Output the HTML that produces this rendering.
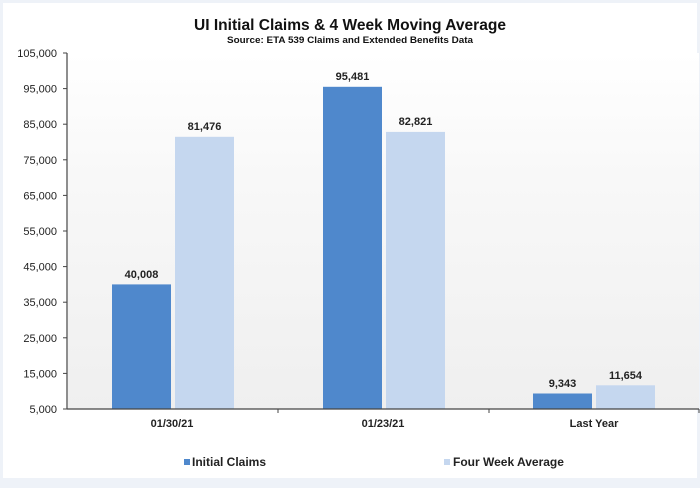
<!DOCTYPE html>
<html><head><meta charset="utf-8"><style>
html,body{margin:0;padding:0;background:#eef2f8;}
svg{display:block;font-family:"Liberation Sans",Arial,sans-serif;}
</style></head><body>
<svg width="700" height="488" viewBox="0 0 700 488">
<defs><linearGradient id="g" x1="0" y1="0" x2="0" y2="1"><stop offset="0" stop-color="#ffffff"/><stop offset="0.35" stop-color="#f8f8f8"/><stop offset="1" stop-color="#efefef"/></linearGradient></defs>
<rect x="0" y="0" width="700" height="488" fill="#eef2f8"/>
<rect x="3" y="3" width="694" height="475" fill="#ffffff"/>
<rect x="68" y="53" width="631" height="356" fill="url(#g)"/>
<text x="350" y="30" text-anchor="middle" font-size="16" font-weight="bold" fill="#111" textLength="312" lengthAdjust="spacingAndGlyphs">UI Initial Claims &amp;  4 Week Moving Average</text>
<text x="350" y="43" text-anchor="middle" font-size="9.5" font-weight="bold" fill="#111" textLength="246" lengthAdjust="spacingAndGlyphs">Source: ETA 539 Claims and Extended Benefits Data</text>
<g fill="#4f88cc">
<rect x="112" y="284.4" width="59" height="124.6"/>
<rect x="323" y="86.8" width="59" height="322.2"/>
<rect x="533" y="393.5" width="59" height="15.5"/>
</g>
<g fill="#c5d7ef">
<rect x="175" y="136.8" width="59" height="272.2"/>
<rect x="386" y="131.9" width="59" height="277.1"/>
<rect x="596" y="385.3" width="59" height="23.7"/>
</g>
<line x1="67" y1="53" x2="67" y2="409" stroke="#444" stroke-width="1.2"/>
<line x1="67" y1="409" x2="699" y2="409" stroke="#444" stroke-width="1.2"/>
<g stroke="#444" stroke-width="1">
<line x1="63" y1="53" x2="67" y2="53"/><line x1="63" y1="88.6" x2="67" y2="88.6"/><line x1="63" y1="124.2" x2="67" y2="124.2"/><line x1="63" y1="159.8" x2="67" y2="159.8"/><line x1="63" y1="195.4" x2="67" y2="195.4"/><line x1="63" y1="231" x2="67" y2="231"/><line x1="63" y1="266.6" x2="67" y2="266.6"/><line x1="63" y1="302.2" x2="67" y2="302.2"/><line x1="63" y1="337.8" x2="67" y2="337.8"/><line x1="63" y1="373.4" x2="67" y2="373.4"/><line x1="63" y1="409" x2="67" y2="409"/>
<line x1="278" y1="409" x2="278" y2="413"/><line x1="489" y1="409" x2="489" y2="413"/><line x1="699" y1="409" x2="699" y2="413"/>
</g>
<g font-size="11" fill="#222" text-anchor="end">
<text x="57" y="57">105,000</text><text x="57" y="92.6">95,000</text><text x="57" y="128.2">85,000</text><text x="57" y="163.8">75,000</text><text x="57" y="199.4">65,000</text><text x="57" y="235">55,000</text><text x="57" y="270.6">45,000</text><text x="57" y="306.2">35,000</text><text x="57" y="341.8">25,000</text><text x="57" y="377.4">15,000</text><text x="57" y="413">5,000</text>
</g>
<g font-size="11" font-weight="bold" fill="#222" text-anchor="middle">
<text x="141.5" y="278">40,008</text><text x="204.5" y="130">81,476</text>
<text x="352.5" y="80">95,481</text><text x="415.5" y="125">82,821</text>
<text x="562.5" y="387">9,343</text><text x="625.5" y="379">11,654</text>
<text x="172" y="427">01/30/21</text><text x="383" y="427">01/23/21</text><text x="594" y="427">Last Year</text>
</g>
<rect x="184" y="459" width="6" height="6" fill="#4f88cc"/>
<text x="192" y="466" font-size="12" font-weight="bold" fill="#222">Initial Claims</text>
<rect x="444" y="459" width="6" height="6" fill="#c5d7ef"/>
<text x="453" y="466" font-size="12" font-weight="bold" fill="#222">Four Week Average</text>
</svg>
</body></html>
